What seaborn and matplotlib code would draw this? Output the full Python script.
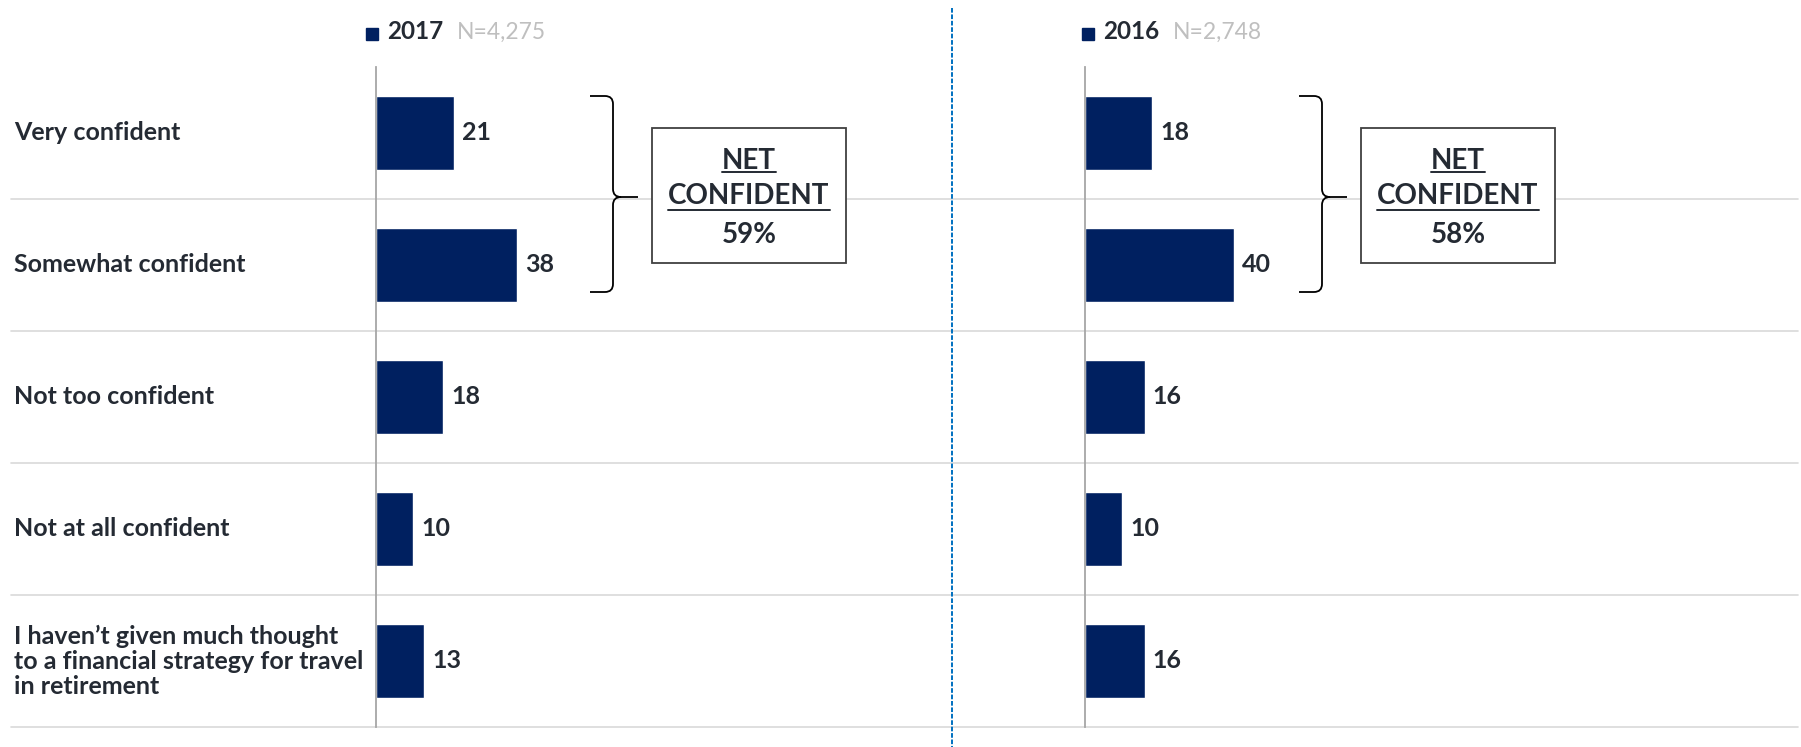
import numpy as np
import pandas as pd
import matplotlib
matplotlib.use("Agg")
import matplotlib.pyplot as plt
import seaborn as sns
from matplotlib.path import Path
from matplotlib.patches import PathPatch, Rectangle
from matplotlib.lines import Line2D
from matplotlib.transforms import blended_transform_factory

# data
categories = ["Very confident", "Somewhat confident", "Not too confident",
              "Not at all confident",
              "I haven\u2019t given much thought\nto a financial strategy for travel\nin retirement"]
values_2017 = [21, 38, 18, 10, 13]
values_2016 = [18, 40, 16, 10, 16]
years = ["2017", "2016"]
sample_sizes = ["N=4,275", "N=2,748"]
net_confident = ["59%", "58%"]

W, H = 1801, 747
NAVY = "#002060"
DARK = "#242A33"
GRID = "#D9D9D9"
PX_PER_UNIT = 3.72
FS = 18

sns.set_theme(style="white")
plt.rcParams["font.family"] = ["Lato", "DejaVu Sans"]

fig = plt.figure(figsize=(W / 100, H / 100), dpi=100)


def fx(px):
    return px / W


def fy(py):
    return 1 - py / H


TOP, BOTTOM = 67, 727
panels = [
    dict(left=376, right=950, values=values_2017, year=years[0], n=sample_sizes[0],
         net=net_confident[0], sq=366, yx=387),
    dict(left=1085, right=1801, values=values_2016, year=years[1], n=sample_sizes[1],
         net=net_confident[1], sq=1082, yx=1103),
]

axes = []
for p in panels:
    ax = fig.add_axes([fx(p["left"]), fy(BOTTOM), fx(p["right"] - p["left"]), (BOTTOM - TOP) / H])
    df = pd.DataFrame({"category": categories, "value": p["values"]})
    sns.barplot(data=df, x="value", y="category", color=NAVY, orient="h",
                width=0.56, saturation=1, ax=ax)
    ax.set_xlim(0, (p["right"] - p["left"]) / PX_PER_UNIT)
    ax.set_ylim(len(categories) - 0.5, -0.5)
    ax.set_xlabel("")
    ax.set_ylabel("")
    ax.set_xticks([])
    ax.set_yticks([])
    for s in ["top", "right", "bottom"]:
        ax.spines[s].set_visible(False)
    ax.spines["left"].set_color("#A6A6A6")
    ax.spines["left"].set_linewidth(1.3)
    ax.patch.set_alpha(0)

    for i, v in enumerate(p["values"]):
        ax.annotate(str(v), xy=(v, i), xytext=(8, 0), textcoords="offset pixels",
                    ha="left", va="center", fontsize=FS, fontweight="bold", color=DARK)

    # header legend
    fig.patches.append(Rectangle((fx(p["sq"]), fy(40)), fx(12), 12 / H,
                                 transform=fig.transFigure, color=NAVY))
    p["yt"] = fig.text(fx(p["yx"]), fy(39), p["year"], fontsize=17.5, fontweight="bold",
                       color=DARK, va="baseline", ha="left")

    # brace
    L = p["left"]
    x0, xv, xt = L + 214, L + 237, L + 262
    yt, ym, yb = 96, 197, 292
    r = 8
    verts = [(x0, yt), (xv - r, yt), (xv, yt), (xv, yt + r), (xv, ym - r), (xv, ym), (xv + r, ym),
             (xt, ym),
             (xv + r, ym), (xv, ym), (xv, ym + r), (xv, yb - r), (xv, yb), (xv - r, yb), (x0, yb)]
    codes = [Path.MOVETO, Path.LINETO, Path.CURVE3, Path.CURVE3, Path.LINETO, Path.CURVE3, Path.CURVE3,
             Path.LINETO,
             Path.MOVETO, Path.CURVE3, Path.CURVE3, Path.LINETO, Path.CURVE3, Path.CURVE3, Path.LINETO]
    verts = [(fx(a), fy(b)) for a, b in verts]
    fig.patches.append(PathPatch(Path(verts, codes), transform=fig.transFigure,
                                 fill=False, edgecolor="black", lw=1.3, zorder=5))

    # NET CONFIDENT box
    bx0, bx1, by0, by1 = L + 276, L + 470, 128, 263
    fig.patches.append(Rectangle((fx(bx0), fy(by1)), fx(bx1 - bx0), (by1 - by0) / H,
                                 transform=fig.transFigure, facecolor="white",
                                 edgecolor="#404040", lw=1.3, zorder=4))
    cx = (bx0 + bx1) / 2
    t1 = fig.text(fx(cx), fy(161), "NET", fontsize=20, fontweight="bold", color=DARK,
                  ha="center", va="center", zorder=6)
    t2 = fig.text(fx(cx), fy(196), "CONFIDENT", fontsize=20, fontweight="bold", color=DARK,
                  ha="center", va="center", zorder=6)
    fig.text(fx(cx), fy(235), p["net"], fontsize=20, fontweight="bold", color=DARK,
             ha="center", va="center", zorder=6)
    p["under"] = [(t1, 172), (t2, 210)]
    axes.append(ax)

# category labels on the left
ax0 = axes[0]
trans = blended_transform_factory(fig.transFigure, ax0.transData)
for i, c in enumerate(categories):
    ax0.text(fx(14), i, c, transform=trans, ha="left", va="center", fontsize=FS,
             fontweight="bold", color=DARK, linespacing=1.1, clip_on=False)

# horizontal separators across the whole figure
for k in range(len(categories)):
    ax0.add_line(Line2D([fx(11), fx(1798)], [k + 0.5, k + 0.5], transform=trans,
                        color=GRID, lw=1.2, clip_on=False, zorder=0))

# dashed divider between the two panels
fig.add_artist(Line2D([fx(952), fx(952)], [fy(8), 0], transform=fig.transFigure,
                      color="#0070C0", lw=1.4, linestyle=(0, (2.4, 0.9))))

# sample sizes placed after the year text, underline the box headings
fig.canvas.draw()
renderer = fig.canvas.get_renderer()
for p in panels:
    bb = p["yt"].get_window_extent(renderer)
    fig.text(bb.x1 / W + fx(14), fy(39), p["n"], fontsize=16.5, color="#BFBFBF",
             va="baseline", ha="left")
    for t, yu in p["under"]:
        bb = t.get_window_extent(renderer)
        fig.add_artist(Line2D([bb.x0 / W, bb.x1 / W], [fy(yu), fy(yu)], transform=fig.transFigure,
                              color=DARK, lw=1.4, zorder=6))

fig.savefig("out.png", dpi=100)
